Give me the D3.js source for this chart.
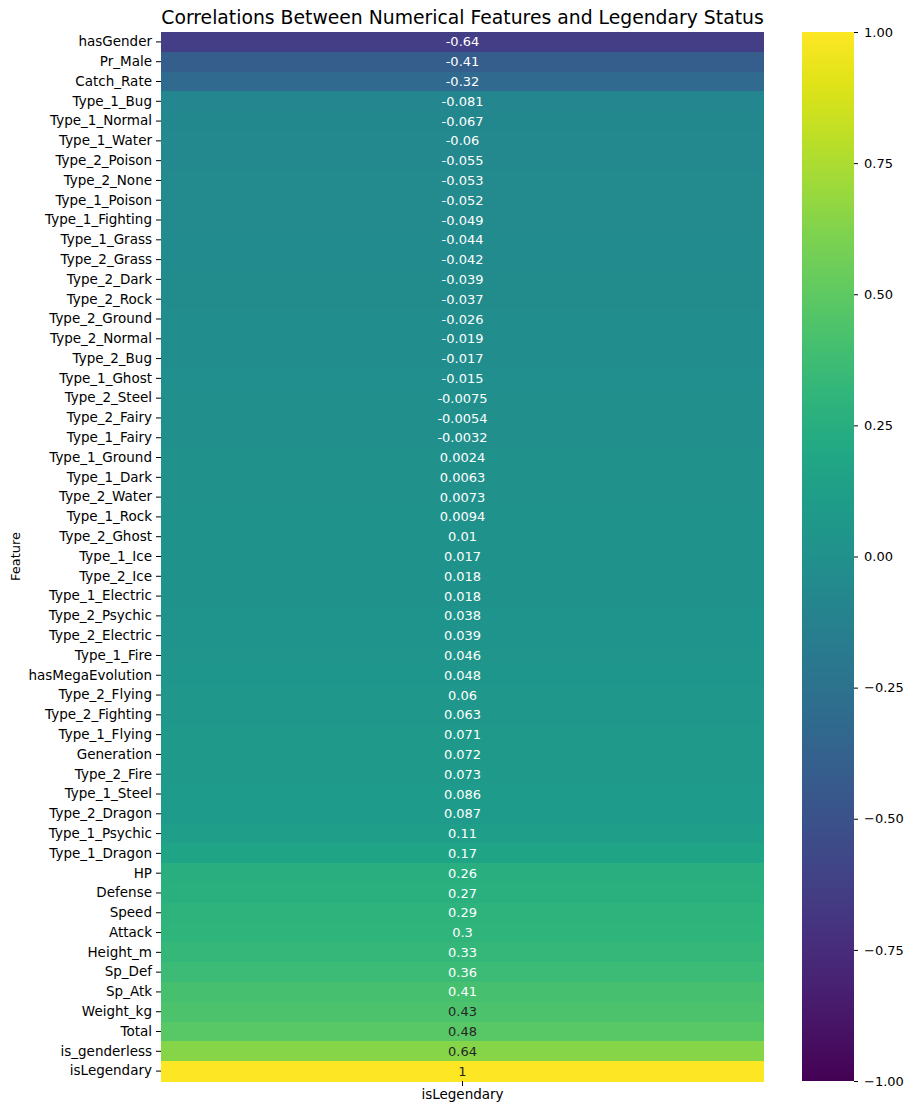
<!DOCTYPE html>
<html><head><meta charset="utf-8">
<script src="https://cdn.jsdelivr.net/npm/d3@7"></script>
<style>body{margin:0;background:#fff;font-family:"DejaVu Sans",sans-serif;}</style>
</head><body><svg id="c" width="908" height="1103"></svg>
<script>
const features = ["hasGender","Pr_Male","Catch_Rate","Type_1_Bug","Type_1_Normal","Type_1_Water","Type_2_Poison","Type_2_None","Type_1_Poison","Type_1_Fighting","Type_1_Grass","Type_2_Grass","Type_2_Dark","Type_2_Rock","Type_2_Ground","Type_2_Normal","Type_2_Bug","Type_1_Ghost","Type_2_Steel","Type_2_Fairy","Type_1_Fairy","Type_1_Ground","Type_1_Dark","Type_2_Water","Type_1_Rock","Type_2_Ghost","Type_1_Ice","Type_2_Ice","Type_1_Electric","Type_2_Psychic","Type_2_Electric","Type_1_Fire","hasMegaEvolution","Type_2_Flying","Type_2_Fighting","Type_1_Flying","Generation","Type_2_Fire","Type_1_Steel","Type_2_Dragon","Type_1_Psychic","Type_1_Dragon","HP","Defense","Speed","Attack","Height_m","Sp_Def","Sp_Atk","Weight_kg","Total","is_genderless","isLegendary"];
const values = [-0.64,-0.41,-0.32,-0.081,-0.067,-0.06,-0.055,-0.053,-0.052,-0.049,-0.044,-0.042,-0.039,-0.037,-0.026,-0.019,-0.017,-0.015,-0.0075,-0.0054,-0.0032,0.0024,0.0063,0.0073,0.0094,0.01,0.017,0.018,0.018,0.038,0.039,0.046,0.048,0.06,0.063,0.071,0.072,0.073,0.086,0.087,0.11,0.17,0.26,0.27,0.29,0.3,0.33,0.36,0.41,0.43,0.48,0.64,1];
const columns = ["isLegendary"];
const cbTicks = [-1,-0.75,-0.5,-0.25,0,0.25,0.5,0.75,1];

const svg = d3.select("#c");
const L=161, R=764, T=32, B=1081;
const cbL=802, cbR=854;
const color = d3.scaleSequential(d3.interpolateViridis).domain([-1,1]);
const y = d3.scaleBand().domain(features).range([T,B]);
const x = d3.scaleBand().domain(columns).range([L,R]);

function lum(c){
  const rgb=d3.rgb(c);
  const f=v=>{v/=255;return v<=0.03928?v/12.92:Math.pow((v+0.055)/1.055,2.4);};
  return 0.2126*f(rgb.r)+0.7152*f(rgb.g)+0.0722*f(rgb.b);
}

const rows = features.map((f,i)=>({f,v:values[i]}));
svg.append("g").attr("shape-rendering","crispEdges").selectAll("rect").data(rows).join("rect")
  .attr("x",x("isLegendary")).attr("width",x.bandwidth())
  .attr("y",d=>y(d.f)).attr("height",y.bandwidth()+0.6)
  .attr("fill",d=>color(d.v));
svg.append("g").selectAll("text").data(rows).join("text")
  .attr("x",x("isLegendary")+x.bandwidth()/2).attr("y",d=>y(d.f)+y.bandwidth()/2)
  .attr("dy","0.35em").attr("text-anchor","middle")
  .attr("font-size","13px")
  .attr("fill",d=>lum(color(d.v))>0.408?"#262626":"#ffffff")
  .text(d=>String(d.v));

const yAxis = d3.axisLeft(y).tickSize(5).tickPadding(4);
const gy = svg.append("g").attr("transform",`translate(${L},0)`).call(yAxis);
gy.select(".domain").remove();
gy.selectAll("text").attr("font-size","13.5px").attr("font-family","DejaVu Sans").attr("fill","#000");

const xAxis = d3.axisBottom(x).tickSize(5).tickPadding(3);
const gx = svg.append("g").attr("transform",`translate(0,${B})`).call(xAxis);
gx.select(".domain").remove();
gx.selectAll("text").attr("font-size","13.5px").attr("font-family","DejaVu Sans").attr("fill","#000");

svg.append("text").attr("transform",`translate(20,${(T+B)/2}) rotate(-90)`)
  .attr("text-anchor","middle").attr("font-size","13px").text("Feature");

svg.append("text").attr("x",(L+R)/2).attr("y",24).attr("text-anchor","middle")
  .attr("font-size","18.8px").text("Correlations Between Numerical Features and Legendary Status");

// colorbar
const defs = svg.append("defs");
const grad = defs.append("linearGradient").attr("id","vg").attr("x1","0").attr("y1","1").attr("x2","0").attr("y2","0");
d3.range(0,1.0001,0.05).forEach(t=>grad.append("stop").attr("offset",t).attr("stop-color",d3.interpolateViridis(t)));
svg.append("rect").attr("x",cbL).attr("y",T).attr("width",cbR-cbL).attr("height",B-T).attr("fill","url(#vg)");
const cy = d3.scaleLinear().domain([-1,1]).range([B,T]);
const gc = svg.append("g").attr("transform",`translate(${cbR},0)`)
  .call(d3.axisRight(cy).tickValues(cbTicks).tickFormat(d3.format(".2f")).tickSize(4).tickPadding(6));
gc.select(".domain").remove();
gc.selectAll("text").attr("font-size","13px").attr("font-family","DejaVu Sans").attr("fill","#000")
  .text(d=>d3.format(".2f")(d).replace("-","\u2212"));
</script></body></html>
